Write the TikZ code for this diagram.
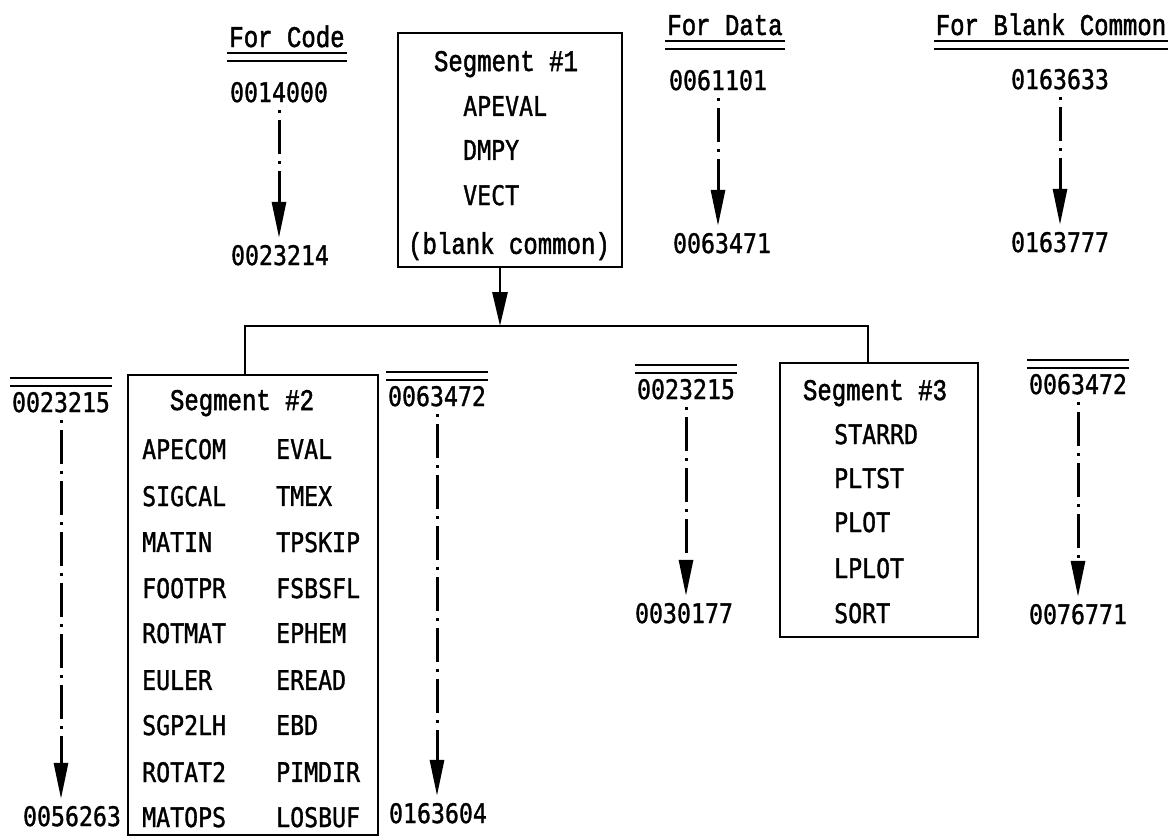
\documentclass[tikz,border=0pt]{standalone}
\usepackage{fontspec}
\usetikzlibrary{arrows.meta}
\newfontfamily\hdrfont[FakeStretch=0.8, FakeBold=1.6]{Liberation Mono}
\newfontfamily\namefont[FakeStretch=0.86, FakeBold=1.2]{DejaVu Sans Mono}

\tikzset{
  hdr/.style={inner sep=0pt, text depth=0pt, font=\hdrfont\fontsize{30}{32}\selectfont},
  addr/.style={inner sep=0pt, text depth=0pt, font=\namefont\fontsize{27}{30}\selectfont},
  routine/.style={addr, anchor=west},
  segbox/.style={draw, line width=2.8pt, inner sep=0pt},
  flow/.style={line width=3pt, dash pattern=on 3pt off 7pt on 34pt off 7pt,
    -{Triangle[length=36pt,width=14pt]}, shorten <=8pt, shorten >=7pt},
  dbl/.style={double, double distance=6pt, line width=1.8pt},
}

\begin{document}
\begin{tikzpicture}[x=1pt, y=-1pt]
  \useasboundingbox (0,0) rectangle (1175,839);
  % column headings
  \node[hdr, anchor=base] (hcode) at (287,47) {For Code};
  \node[hdr, anchor=base] (hdata) at (725,35) {For Data};
  \node[hdr, anchor=base] (hblank) at (1051,35) {For Blank Common};
  \foreach \h in {hcode,hdata,hblank}
    \draw[dbl] ([shift={(-2,10)}]\h.south west) -- ([shift={(2,10)}]\h.south east);
  % segment 1
  \node[segbox, minimum width=224pt, minimum height=234pt] (seg1) at (510,150) {};
  \node[hdr] (s1t) at (506,61) {Segment \#1};
  \foreach \n/\y in {APEVAL/106, DMPY/150, VECT/195}
    \node[routine] (s1\n) at (463,\y) {\n};
  \node[hdr] (s1c) at (509,243) {(blank common)};
  % segment 2
  \node[segbox, minimum width=250pt, minimum height=460pt] (seg2) at (253,605) {};
  \node[hdr] (s2t) at (242,400) {Segment \#2};
  \foreach \a/\b/\y in {APECOM/EVAL/449, SIGCAL/TMEX/496, MATIN/TPSKIP/542,
      FOOTPR/FSBSFL/588, ROTMAT/EPHEM/633, EULER/EREAD/680,
      SGP2LH/EBD/725, ROTAT2/PIMDIR/772, MATOPS/LOSBUF/817} {
    \node[routine] (s2\a) at (142,\y) {\a};
    \node[routine] (s2\b) at (276,\y) {\b};
  }
  % segment 3
  \node[segbox, minimum width=198pt, minimum height=274pt] (seg3) at (879,500) {};
  \node[hdr] (s3t) at (875,390) {Segment \#3};
  \foreach \n/\y in {STARRD/434, PLTST/478, PLOT/522, LPLOT/568, SORT/613}
    \node[routine] (s3\n) at (834,\y) {\n};
  % tree connectors
  \coordinate (tip) at (500,326);
  \coordinate (j2) at (245,326);
  \coordinate (j3) at (868,326);
  \draw[line width=2.8pt, -{Triangle[length=34pt,width=15pt]}] (seg1.south -| tip) -- (tip);
  \draw[line width=2.5pt] (seg2.north -| j2) -- (j2) -- (j3) -- (seg3.north -| j3);
  % address ranges, segment 1
  \node[addr] (c0) at (279,92) {0014000};
  \node[addr] (c1) at (280,255) {0023214};
  \node[addr] (d0) at (718,80) {0061101};
  \node[addr] (d1) at (722,243) {0063471};
  \node[addr] (b0) at (1060,79) {0163633};
  \node[addr] (b1) at (1060,242) {0163777};
  % address ranges, segments 2 and 3
  \node[addr] (l0) at (61,402) {0023215};
  \node[addr] (l1) at (72,816) {0056263};
  \node[addr] (m0) at (437,396) {0063472};
  \node[addr] (m1) at (438,813) {0163604};
  \node[addr] (r0) at (686,389) {0023215};
  \node[addr] (r1) at (684,613) {0030177};
  \node[addr] (t0) at (1078,384) {0063472};
  \node[addr] (t1) at (1078,614) {0076771};
  % dashed arrows
  \foreach \p/\q in {c0/c1, d0/d1, b0/b1, l0/l1, m0/m1, r0/r1, t0/t1}
    \draw[flow] (\p.south) -- (\p.south |- \q.north);
  % overlines
  \foreach \p in {l0, m0, r0, t0}
    \draw[dbl] ([shift={(-2,-10)}]\p.north west) -- ([shift={(2,-10)}]\p.north east);
\end{tikzpicture}
\end{document}
